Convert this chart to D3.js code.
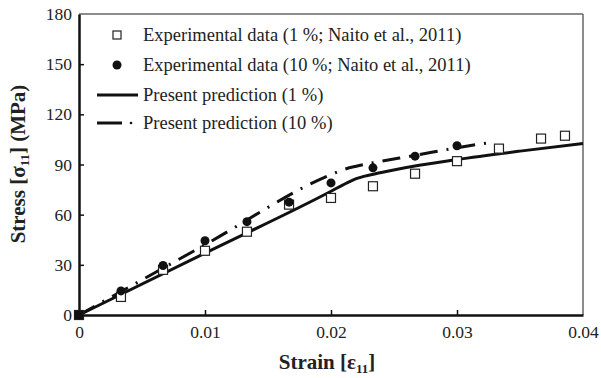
<!DOCTYPE html>
<html><head><meta charset="utf-8">
<script src="https://cdn.jsdelivr.net/npm/d3@7"></script>
<style>body{margin:0;background:#fff}svg{display:block}</style>
</head><body>
<svg id="c" width="601" height="378"></svg>
<script>
const xTicks = [0, 0.01, 0.02, 0.03, 0.04];
const yTicks = [0, 30, 60, 90, 120, 150, 180];
const exp1 = [[0,0],[0.00333,10.8],[0.00667,27],[0.01,38.4],[0.01333,49.8],[0.01667,66],[0.02,70],[0.02333,77],[0.02667,84.5],[0.03,92],[0.03333,99.5],[0.03667,105.5],[0.03857,107.2]];
const exp10 = [[0,0],[0.00333,14.4],[0.00667,29.6],[0.01,44.4],[0.01333,55.8],[0.01667,67.5],[0.02,79],[0.02333,88],[0.02667,95],[0.03,101.2]];
const pred1 = [[0,0],[0.01,37],[0.02,74],[0.021,78],[0.022,81.5],[0.024,85.2],[0.027,89.5],[0.03,93],[0.035,98],[0.04,102.5]];
const pred10 = [[0,0],[0.01,42],[0.02,84],[0.021,87],[0.022,89],[0.0233,91],[0.0267,95.5],[0.03,100],[0.0325,103]];
const legendLabels = ["Experimental data (1 %; Naito et al., 2011)","Experimental data (10 %; Naito et al., 2011)","Present prediction (1 %)","Present prediction (10 %)"];

const FONT = '"Liberation Serif","Times New Roman",serif';
const svg = d3.select("#c");
const x = d3.scaleLinear().domain([0,0.04]).range([79,583]);
const y = d3.scaleLinear().domain([0,180]).range([315,14]);

svg.append("line").attr("x1",x(0)).attr("x2",x(0.04)).attr("y1",y(180)).attr("y2",y(180)).attr("stroke","#666").attr("stroke-width",1.5);
svg.append("line").attr("x1",x(0.04)).attr("x2",x(0.04)).attr("y1",y(180)).attr("y2",y(0)).attr("stroke","#666").attr("stroke-width",1.5);

const xAxis = svg.append("g").attr("transform",`translate(0,${y(0)})`)
  .call(d3.axisBottom(x).tickValues(xTicks).tickSizeInner(-5).tickSizeOuter(0).tickPadding(11).tickFormat(d=>d===0?"0":d3.format(".2f")(d)));
const yAxis = svg.append("g").attr("transform",`translate(${x(0)},0)`)
  .call(d3.axisLeft(y).tickValues(yTicks).tickSizeInner(-5).tickSizeOuter(0).tickPadding(7));
[xAxis,yAxis].forEach(a=>{
  a.select(".domain").attr("stroke","#111").attr("stroke-width",2.5);
  a.selectAll(".tick line").attr("stroke","#111").attr("stroke-width",1.5);
  a.selectAll("text").style("font-family",FONT).style("font-size","17.5px").attr("fill","#222");
});
yAxis.selectAll(".tick").filter(d=>d===180||d===0).select("line").remove();
xAxis.selectAll(".tick").filter(d=>d===0||d===0.04).select("line").remove();

const line = d3.line().x(d=>x(d[0])).y(d=>y(d[1])).curve(d3.curveMonotoneX);
svg.append("path").attr("d",line(pred1)).attr("fill","none").attr("stroke","#111").attr("stroke-width",3);
svg.append("path").attr("d",line(pred10)).attr("fill","none").attr("stroke","#111").attr("stroke-width",3)
  .attr("stroke-dasharray","18,9,2,9");

svg.append("g").selectAll("rect").data(exp1).join("rect")
  .attr("x",d=>x(d[0])-4.5).attr("y",d=>y(d[1])-4.5).attr("width",9).attr("height",9)
  .attr("fill",(d,i)=>i===0?"#111":"#fff").attr("stroke","#222").attr("stroke-width",1.2);
svg.append("g").selectAll("circle").data(exp10).join("circle")
  .attr("cx",d=>x(d[0])).attr("cy",d=>y(d[1])).attr("r",4.5).attr("fill","#111");

const ly = [35,65,95,123];
const lg = svg.append("g");
lg.append("rect").attr("x",117-4).attr("y",ly[0]-4).attr("width",8).attr("height",8).attr("fill","#fff").attr("stroke","#222").attr("stroke-width",1.2);
lg.append("circle").attr("cx",117).attr("cy",ly[1]).attr("r",4.5).attr("fill","#111");
lg.append("line").attr("x1",97).attr("x2",138).attr("y1",ly[2]).attr("y2",ly[2]).attr("stroke","#111").attr("stroke-width",3);
lg.append("line").attr("x1",97).attr("x2",122).attr("y1",ly[3]).attr("y2",ly[3]).attr("stroke","#111").attr("stroke-width",3);
lg.append("circle").attr("cx",131).attr("cy",ly[3]).attr("r",1.3).attr("fill","#111");
lg.selectAll("text").data(legendLabels).join("text")
  .attr("x",143).attr("y",(d,i)=>ly[i]+6).style("font-family",FONT).style("font-size","18.5px").attr("fill","#222").text(d=>d);

const xt = svg.append("text").attr("x",327).attr("y",369).attr("text-anchor","middle")
  .style("font-family",FONT).style("font-size","21px").attr("font-weight","bold").attr("fill","#222");
xt.append("tspan").text("Strain [ε");
xt.append("tspan").style("font-size","13px").attr("dy",4).text("11");
xt.append("tspan").attr("dy",-4).text("]");
const yt = svg.append("text").attr("transform","translate(25,164) rotate(-90)").attr("text-anchor","middle")
  .style("font-family",FONT).style("font-size","21px").attr("font-weight","bold").attr("fill","#222");
yt.append("tspan").text("Stress [σ");
yt.append("tspan").style("font-size","13px").attr("dy",4).text("11");
yt.append("tspan").attr("dy",-4).text("] (MPa)");
</script>
</body></html>
